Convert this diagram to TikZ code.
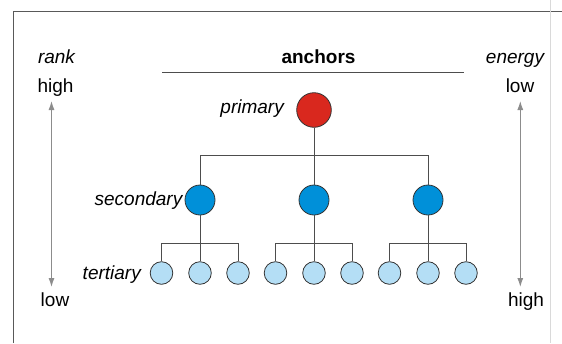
\documentclass[tikz,border=0pt]{standalone}
\usepackage{fontspec}
\setmainfont{Liberation Sans}
\usepackage{tikz}
\usetikzlibrary{shapes,arrows.meta,backgrounds}

\definecolor{anchorred}{HTML}{D9281E}
\definecolor{anchorblue}{HTML}{0090D9}
\definecolor{anchorlight}{HTML}{B4DEF5}
\definecolor{edgegray}{HTML}{4D4D4D}
\definecolor{arrowgray}{HTML}{8C8C8C}

\tikzset{
  lbl/.style={inner sep=0pt, font=\fontsize{19}{22}\selectfont},
  tierlbl/.style={lbl, font=\fontsize{19}{22}\selectfont\itshape, anchor=base east},
  ball/.style={circle, draw=black!80, line width=.8pt, inner sep=0pt},
  primnode/.style={ball, fill=anchorred, minimum size=34.6pt},
  secnode/.style={ball, fill=anchorblue, minimum size=30pt},
  tertnode/.style={ball, fill=anchorlight, minimum size=22.6pt},
  link/.style={draw=edgegray, line width=1pt},
  scale arrow/.style={arrowgray, line width=1pt, {Latex[length=9pt,width=6pt]}-{Latex[length=9pt,width=6pt]}}
}

\begin{document}
\begin{tikzpicture}[x=1pt, y=-1pt]
\useasboundingbox (0,0) rectangle (562,343);
% frame
\draw[black!65, line width=1pt] (13,343) -- (13,11) -- (562,11);
\draw[black!15, line width=.8pt] (550.5,0) -- (550.5,343);

% side scales
\node[lbl, anchor=base, font=\fontsize{19}{22}\selectfont\itshape] (rank) at (56.5,63) {rank};
\node[lbl, anchor=base] (rankhigh) at (55.5,92.5) {high};
\node[lbl, anchor=base] (ranklow) at (55,306) {low};
\coordinate (rtop) at (51.5,101);
\coordinate (rbot) at (51.5,287);
\draw[scale arrow] (rtop) -- (rbot);

\node[lbl, anchor=base, font=\fontsize{19}{22}\selectfont\itshape] (energy) at (515,63) {energy};
\node[lbl, anchor=base] (energylow) at (520,92.5) {low};
\node[lbl, anchor=base] (energyhigh) at (526,306) {high};
\coordinate (etop) at (520.3,101);
\coordinate (ebot) at (520.3,287);
\draw[scale arrow] (etop) -- (ebot);

% title
\node[lbl, anchor=base, font=\fontsize{19}{22}\selectfont\bfseries] (title) at (318.5,63) {anchors};
\coordinate (tl) at (162,72.5);
\coordinate (tr) at (464,72.5);
\draw[edgegray, line width=1pt] (tl) -- (tr);

% tree
\node[primnode] (p) at (314,110) {};
\node[secnode] (s1) at (200,200) {};
\node[secnode] (s2) at (314,200) {};
\node[secnode] (s3) at (428,200) {};
\coordinate (pb) at (314,155);
\draw[link] (p) -- (pb);
\draw[link] (s1) -- (s1 |- pb) -- (s3 |- pb) -- (s3);
\draw[link] (s2) -- (pb);

\foreach \i/\x in {1/200,2/314,3/428} {
  \node[tertnode] (t\i1) at (\x-38.5,273) {};
  \node[tertnode] (t\i2) at (\x,273) {};
  \node[tertnode] (t\i3) at (\x+38,273) {};
  \coordinate (tb\i) at (\x,243);
  \draw[link] (t\i1) -- (t\i1 |- tb\i) -- (t\i3 |- tb\i) -- (t\i3);
  \draw[link] (s\i) -- (t\i2);
}

% tier labels
\node[tierlbl] (lprim) at (284,113) {primary};
\node[tierlbl] (lsec) at (182.5,205) {secondary};
\node[tierlbl] (lter) at (141,279) {tertiary};
\end{tikzpicture}
\end{document}
